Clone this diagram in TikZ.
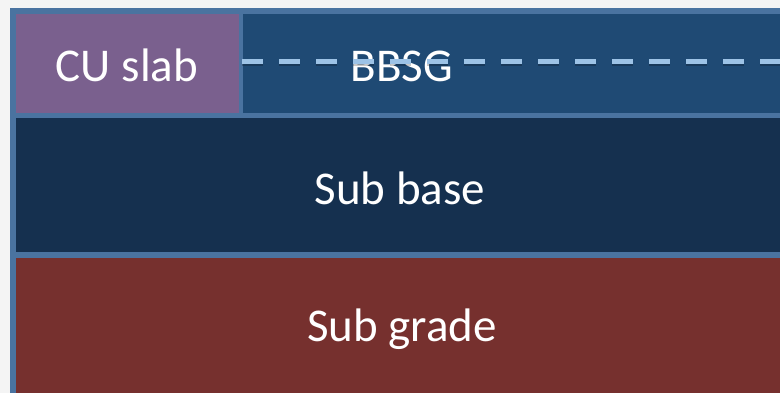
\documentclass[tikz,border=0pt]{standalone}
\usepackage{fontspec}
\setmainfont{Carlito}
\definecolor{bgc}{HTML}{F4F4F4}
\definecolor{edgec}{HTML}{4A73A0}
\definecolor{cuc}{HTML}{7A608E}
\definecolor{bbsgc}{HTML}{1F4A74}
\definecolor{basec}{HTML}{15304F}
\definecolor{gradec}{HTML}{76302E}
\definecolor{dashc}{HTML}{9DC3E6}
\begin{document}
\begin{tikzpicture}[x=1pt,y=-1pt,
  layer/.style={inner sep=0pt, outer sep=0pt, anchor=north west},
  lbl/.style={text=white, font=\fontsize{47}{52}\selectfont, anchor=base, inner sep=0pt}]
\useasboundingbox (0,0) rectangle (780,393);
\fill[bgc] (0,0) rectangle (780,393);
\fill[edgec] (10,8) rectangle (800,400);
\node[layer, fill=cuc, minimum width=223pt, minimum height=99pt] (cu) at (16,14) {};
\node[layer, fill=bbsgc, minimum width=547pt, minimum height=99pt] (bbsg) at (243,14) {};
\node[layer, fill=basec, minimum width=774pt, minimum height=134pt] (base) at (16,118) {};
\node[layer, fill=gradec, minimum width=774pt, minimum height=142pt] (grade) at (16,258) {};
\node[lbl] (tcu) at (127,82) {CU slab};
\node[lbl] (tbbsg) at (402,82) {BBSG};
\node[lbl] (tbase) at (400,204.5) {Sub base};
\node[lbl] (tgrade) at (402,341) {Sub grade};
\coordinate (dend) at (800,61.5);
\coordinate (dstart) at (242,61.5);
\draw[black, opacity=0.22, line width=4.5pt, dash pattern=on 21pt off 16pt] ([yshift=-2.5pt]dstart) -- ([yshift=-2.5pt]dend);
\draw[dashc, line width=4.5pt, dash pattern=on 21pt off 16pt] (dstart) -- (dend);
\end{tikzpicture}
\end{document}
